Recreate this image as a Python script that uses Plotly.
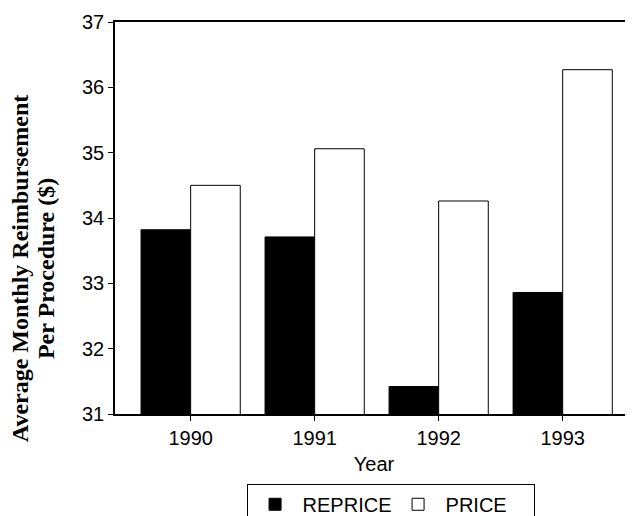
import plotly.graph_objects as go

years = ["1990", "1991", "1992", "1993"]
reprice = [33.82, 33.71, 31.42, 32.86]
price = [34.50, 35.06, 34.26, 36.27]
y_ticks = [31, 32, 33, 34, 35, 36, 37]
y_title_lines = ["Average Monthly Reimbursement", "Per Procedure ($)"]

fig = go.Figure()

fig.add_trace(
    go.Bar(
        x=years,
        y=reprice,
        name="REPRICE",
        marker=dict(color="black", line=dict(color="black", width=1)),
    )
)
fig.add_trace(
    go.Bar(
        x=years,
        y=price,
        name="PRICE",
        marker=dict(color="white", line=dict(color="black", width=1)),
    )
)

# y title sits lower than the plot middle in the original, and its two lines
# are closer together than plotly's line height, so one annotation per line
for line, xpos in zip(y_title_lines, [-0.183, -0.133]):
    fig.add_annotation(
        text="<b>" + line + "</b>",
        xref="paper",
        yref="paper",
        x=xpos,
        y=0.37,
        xanchor="center",
        yanchor="middle",
        textangle=-90,
        showarrow=False,
        font=dict(family="Liberation Serif, Times New Roman", size=24, color="black"),
    )

# page body has an 8px margin, so the figure is sized to what is left of the window
fig.update_layout(
    width=625,
    height=508,
    margin=dict(l=107, r=0, t=14, b=102, autoexpand=False),
    paper_bgcolor="white",
    plot_bgcolor="white",
    barmode="group",
    bargap=0.2,
    bargroupgap=0,
    font=dict(family="Liberation Sans, Arial", size=20, color="black"),
    legend=dict(
        orientation="h",
        x=0.532,
        xanchor="center",
        y=-0.178,
        yanchor="top",
        bordercolor="black",
        borderwidth=1,
        font=dict(size=20),
        itemwidth=45,
        entrywidth=83,
        tracegroupgap=0,
    ),
    xaxis=dict(
        type="category",
        range=[-0.61, 3.567],
        showline=True,
        linecolor="black",
        linewidth=1.5,
        mirror=True,
        ticks="outside",
        ticklen=5,
        tickcolor="black",
        tickfont=dict(size=20),
        title=dict(text="Year", standoff=9, font=dict(size=20)),
        showgrid=False,
        automargin=False,
    ),
    yaxis=dict(
        range=[31, 37],
        tickvals=y_ticks,
        showline=True,
        linecolor="black",
        linewidth=1.5,
        ticks="outside",
        ticklen=5,
        tickcolor="black",
        tickfont=dict(size=20),
        showgrid=False,
        zeroline=False,
        automargin=False,
    ),
)

fig.write_html("out.html")
